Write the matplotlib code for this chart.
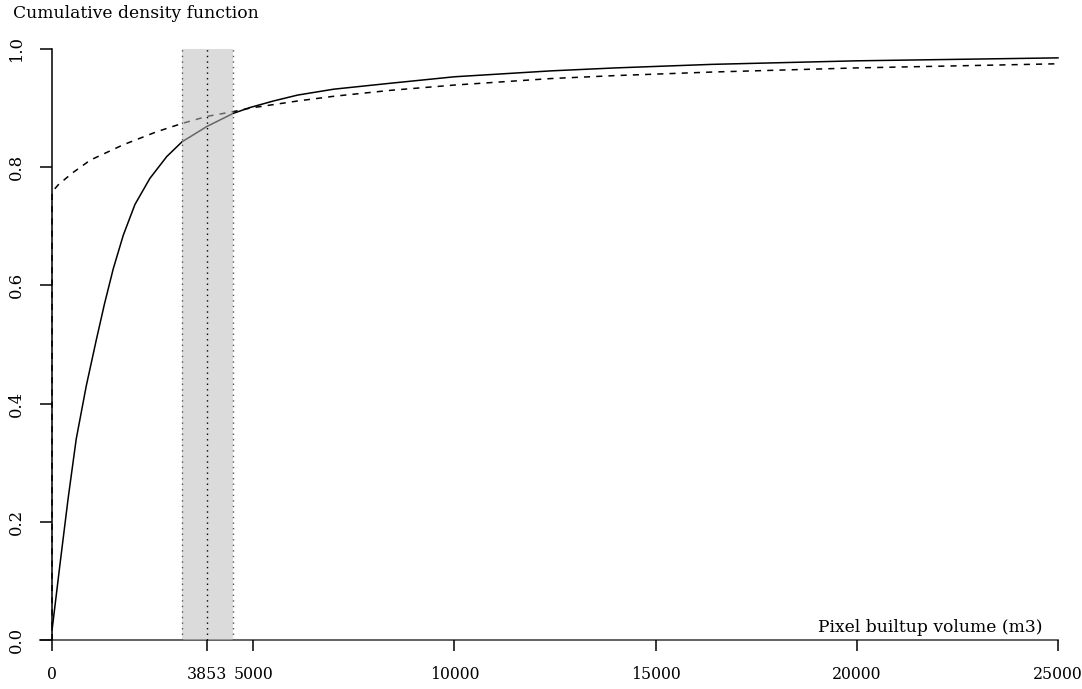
import matplotlib
matplotlib.use("Agg")
import matplotlib.pyplot as plt

# values
solid_x = [0, 200, 400, 600, 850, 1100, 1300, 1520, 1770, 2060, 2430, 2850, 3230,
           3850, 4500, 4920, 5500, 6100, 7000, 8400, 10000, 12400, 14000, 16400,
           20000, 25000]
solid_y = [0.017, 0.13, 0.24, 0.34, 0.43, 0.508, 0.568, 0.628, 0.685, 0.737, 0.781,
           0.818, 0.843, 0.869, 0.891, 0.901, 0.912, 0.922, 0.932, 0.942, 0.953,
           0.963, 0.968, 0.974, 0.980, 0.985]

dashed_x = [0, 0, 150, 500, 950, 1770, 2600, 3230, 3850, 4500, 4920, 6100, 7000,
            8400, 10000, 12400, 14000, 16400, 20000, 25000]
dashed_y = [0, 0.758, 0.770, 0.790, 0.812, 0.838, 0.860, 0.874, 0.886, 0.894, 0.900,
            0.912, 0.920, 0.930, 0.939, 0.950, 0.955, 0.961, 0.968, 0.975]

band_lo, band_mid, band_hi = 3225, 3853, 4490
xticks = [0, 3853, 5000, 10000, 15000, 20000, 25000]
yticks = [0.0, 0.2, 0.4, 0.6, 0.8, 1.0]

plt.rcParams["font.family"] = ["DejaVu Serif"]
plt.rcParams["font.size"] = 12.3

W, H = 1082, 689
fig = plt.figure(figsize=(W / 100, H / 100), dpi=100)
ax = fig.add_axes([40 / W, (H - 640) / H, (1058 - 40) / W, (640 - 49) / H])
ax.set_xlim(-300, 25000)
ax.set_ylim(0, 1)

ax.axhline(0, color="#555555", lw=1.3, clip_on=False, zorder=1)
ax.plot(solid_x, solid_y, color="black", lw=1.1, clip_on=False, zorder=2,
        solid_joinstyle="round")
ax.plot(dashed_x, dashed_y, color="black", lw=1.1, linestyle=(0, (4, 4)),
        clip_on=False, zorder=2)

ax.axvspan(band_lo, band_hi, facecolor=(0.745, 0.745, 0.745), alpha=0.54,
           lw=0, zorder=3)
for xv, c in [(band_lo, "#555555"), (band_hi, "#555555"), (band_mid, "black")]:
    ax.axvline(xv, color=c, lw=1.0, linestyle=(0, (1, 3)), zorder=4)

for s in ["top", "right", "bottom"]:
    ax.spines[s].set_visible(False)
ax.spines["left"].set_position(("data", 0))
ax.spines["left"].set_bounds(0, 1)
ax.spines["left"].set_linewidth(1.1)

ax.set_xticks(xticks)
ax.set_xticklabels([str(v) for v in xticks])
ax.set_yticks(yticks)
ax.set_yticklabels([f"{v:.1f}" for v in yticks], rotation=90, va="center")
ax.tick_params(axis="x", direction="out", length=8, width=1.1, pad=11, labelsize=11.3)
ax.tick_params(axis="y", direction="out", length=8.5, width=1.1, pad=11, labelsize=11.8)

ax.annotate("Pixel builtup volume (m3)", xy=(1, 0), xycoords="axes fraction",
            xytext=(-11, 6), textcoords="offset points", ha="right", va="baseline")
fig.text(13 / W, 1 - 14 / H, "Cumulative density function", ha="left", va="center")

fig.savefig("out.png", dpi=100)
